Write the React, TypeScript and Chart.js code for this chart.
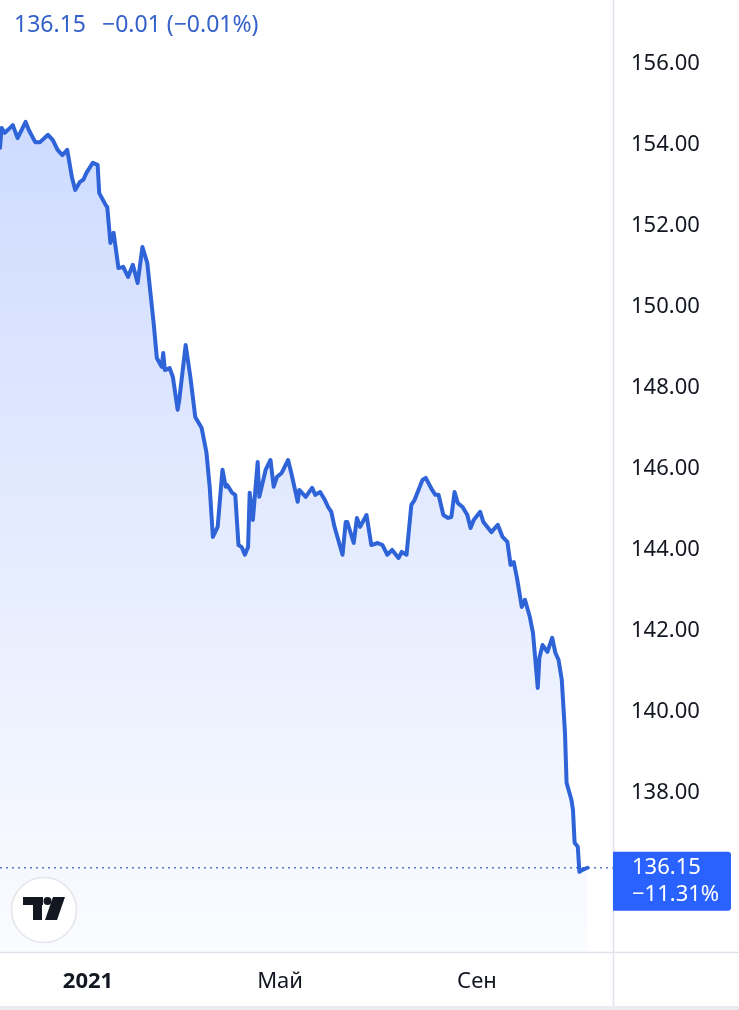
import React, { useEffect, useRef } from "react";
import { Chart, registerables } from "chart.js";

Chart.register(...registerables);

// Days relative to 1 Jan 2021
const DAYS = [
  -55, -54, -52, -47, -44, -39, -37, -33, -30, -25, -22, -19, -16, -13, -10, -8, -5, -3, -1, 3,
  6, 7, 11, 12, 14, 16, 19, 22, 25, 28, 31, 34, 37, 41, 43, 46, 47, 48, 51, 53,
  56, 57, 61, 64, 67, 71, 74, 76, 78, 81, 84, 86, 87, 90, 92, 94, 96, 98, 100, 101,
  103, 106, 107, 111, 114, 116, 118, 121, 125, 127, 131, 132, 136, 140, 142, 145, 148, 150, 152, 154,
  159, 161, 162, 166, 168, 170, 174, 177, 181, 184, 187, 190, 194, 196, 199, 202, 204, 209, 211, 215,
  217, 219, 222, 225, 227, 229, 231, 234, 237, 239, 241, 245, 247, 252, 256, 259, 262, 264, 266, 268,
  271, 273, 276, 278, 281, 282, 284, 287, 290, 292, 294, 296, 298, 299, 302, 303, 304, 306, 307, 309,
  312,
];

const PRICES = [
  153.93, 154.42, 154.30, 154.49, 154.17, 154.57, 154.37, 154.07, 154.07, 154.25, 154.12, 153.88, 153.75, 153.88, 153.19, 152.89, 153.09, 153.14, 153.31, 153.56,
  153.51, 152.81, 152.52, 152.47, 151.58, 151.83, 150.96, 150.99, 150.74, 151.04, 150.59, 151.48, 151.09, 149.60, 148.74, 148.52, 148.86, 148.44, 148.49, 148.27,
  147.46, 147.70, 149.06, 148.25, 147.28, 147.01, 146.40, 145.56, 144.32, 144.57, 145.98, 145.56, 145.60, 145.41, 145.36, 144.12, 144.07, 143.88, 144.07, 145.41,
  144.74, 146.17, 145.31, 145.98, 146.22, 145.56, 145.80, 145.90, 146.22, 145.90, 145.19, 145.48, 145.31, 145.53, 145.36, 145.43, 145.23, 145.06, 144.94, 144.57,
  143.88, 144.69, 144.69, 144.17, 144.79, 144.57, 144.86, 144.12, 144.17, 144.12, 143.88, 144.00, 143.80, 143.95, 143.88, 145.11, 145.23, 145.73, 145.78, 145.48,
  145.36, 145.36, 144.86, 144.79, 144.81, 145.43, 145.16, 145.06, 144.86, 144.54, 144.74, 144.94, 144.69, 144.44, 144.62, 144.32, 144.20, 143.63, 143.70, 143.31,
  142.59, 142.77, 142.35, 141.95, 140.59, 141.33, 141.65, 141.48, 141.83, 141.46, 141.28, 140.79, 139.48, 138.25, 137.83, 137.58, 136.77, 136.67, 136.05, 136.10,
  136.15,
];

const TIME_TICK_DAYS = [0, 120, 243];
const TIME_TICK_LABELS = ["2021", "Май", "Сен"];
const PRICE_TICKS = [138, 140, 142, 144, 146, 148, 150, 152, 154, 156];

const LAST_PRICE = 136.15;
const LAST_CHANGE = "−0.01 (−0.01%)";
const PERIOD_CHANGE = "−11.31%";

const X_MIN = -55;
const X_MAX = 328;
const Y_MIN = 134.07;
const Y_MAX = 157.58;

const FONT = '"Noto Sans", "Open Sans", sans-serif';
const LINE_COLOR = "#2f64d9";
const BOX_COLOR = "#2962ff";
const TEXT_COLOR = "#131722";
const BORDER_COLOR = "#e0e3eb";

const overlayPlugin = {
  id: "tvOverlay",
  beforeDatasetsDraw(chart: any) {
    const { ctx, chartArea } = chart;
    const yScale = chart.scales.y;
    const yLast = yScale.getPixelForValue(LAST_PRICE);
    ctx.save();
    ctx.strokeStyle = "#5a78c8";
    ctx.lineWidth = 1.5;
    ctx.setLineDash([2, 4]);
    ctx.beginPath();
    ctx.moveTo(chartArea.left, yLast);
    ctx.lineTo(chartArea.right, yLast);
    ctx.stroke();
    ctx.restore();
  },
  afterDraw(chart: any) {
    const { ctx, chartArea, width, height } = chart;
    const yScale = chart.scales.y;
    ctx.save();
    // borders
    ctx.strokeStyle = BORDER_COLOR;
    ctx.lineWidth = 1.5;
    ctx.beginPath();
    ctx.moveTo(0, chartArea.bottom + 0.5);
    ctx.lineTo(width, chartArea.bottom + 0.5);
    ctx.moveTo(chartArea.right + 0.5, 0);
    ctx.lineTo(chartArea.right + 0.5, height);
    ctx.stroke();
    ctx.fillStyle = "#e9ebf1";
    ctx.fillRect(0, height - 4, width, 4);

    // legend text
    ctx.fillStyle = "#3461c9";
    ctx.font = `23px ${FONT}`;
    ctx.textBaseline = "middle";
    ctx.textAlign = "left";
    ctx.fillText(LAST_PRICE.toFixed(2), 14, 25);
    ctx.fillText(LAST_CHANGE, 102, 25);

    // price label box
    const yLast = yScale.getPixelForValue(LAST_PRICE);
    const bx = chartArea.right;
    const by = yLast - 16;
    const bw = 118;
    const bh = 59;
    ctx.fillStyle = BOX_COLOR;
    ctx.beginPath();
    (ctx as any).roundRect(bx, by, bw, bh, [0, 3, 3, 0]);
    ctx.fill();
    ctx.fillStyle = "#ffffff";
    ctx.font = `22px ${FONT}`;
    ctx.fillText(LAST_PRICE.toFixed(2), bx + 19, yLast);
    ctx.fillText(PERIOD_CHANGE, bx + 19, yLast + 27);

    // logo
    const cx = 44;
    const cy = 910;
    ctx.beginPath();
    ctx.arc(cx, cy, 32.5, 0, Math.PI * 2);
    ctx.fillStyle = "#ffffff";
    ctx.fill();
    ctx.strokeStyle = "#e3e5ea";
    ctx.lineWidth = 1.5;
    ctx.stroke();
    ctx.fillStyle = TEXT_COLOR;
    ctx.fillRect(cx - 21, cy - 13, 20, 8);
    ctx.fillRect(cx - 11, cy - 13, 9, 23);
    ctx.beginPath();
    ctx.arc(cx + 3.5, cy - 9, 4, 0, Math.PI * 2);
    ctx.fill();
    ctx.beginPath();
    ctx.moveTo(cx + 9, cy - 13);
    ctx.lineTo(cx + 21, cy - 13);
    ctx.lineTo(cx + 13, cy + 10);
    ctx.lineTo(cx + 1, cy + 10);
    ctx.closePath();
    ctx.fill();
    ctx.restore();
  },
};

export default function App() {
  const canvasRef = useRef<HTMLCanvasElement | null>(null);

  useEffect(() => {
    document.body.style.margin = "0";
    const canvas = canvasRef.current;
    if (!canvas) return;
    const points = DAYS.map((d, i) => ({ x: d, y: PRICES[i] }));
    const chart = new Chart(canvas, {
      type: "line",
      data: {
        datasets: [
          {
            data: points,
            borderColor: LINE_COLOR,
            borderWidth: 4,
            borderJoinStyle: "round",
            borderCapStyle: "round",
            pointRadius: 0,
            tension: 0,
            fill: "start",
            backgroundColor: (c: any) => {
              const { chart: ch } = c;
              const area = ch.chartArea;
              if (!area) return "rgba(41,98,255,0.15)";
              const g = ch.ctx.createLinearGradient(0, area.top, 0, area.bottom);
              g.addColorStop(0, "rgba(41,98,255,0.26)");
              g.addColorStop(1, "rgba(41,98,255,0.02)");
              return g;
            },
          },
        ],
      },
      options: {
        animation: false,
        responsive: true,
        maintainAspectRatio: false,
        layout: { padding: 0 },
        plugins: {
          legend: { display: false },
          tooltip: { enabled: false },
        },
        scales: {
          x: {
            type: "linear",
            min: X_MIN,
            max: X_MAX,
            position: "bottom",
            grid: { display: false, drawTicks: false },
            border: { display: false },
            afterBuildTicks: (axis: any) => {
              axis.ticks = TIME_TICK_DAYS.map((v) => ({ value: v }));
            },
            afterFit: (axis: any) => {
              axis.height = 58;
              axis.paddingLeft = 0;
              axis.paddingRight = 0;
              axis.paddingTop = 0;
              axis.paddingBottom = 0;
            },
            ticks: {
              autoSkip: false,
              maxRotation: 0,
              padding: 17,
              color: TEXT_COLOR,
              font: (c: any) => ({
                family: FONT,
                size: 22,
                weight: c.tick && c.tick.value === 0 ? "bold" : "normal",
              }),
              callback: (v: any) => {
                const i = TIME_TICK_DAYS.indexOf(Number(v));
                return i >= 0 ? TIME_TICK_LABELS[i] : "";
              },
            },
          },
          y: {
            type: "linear",
            position: "right",
            min: Y_MIN,
            max: Y_MAX,
            grid: { display: false, drawTicks: false },
            border: { display: false },
            afterBuildTicks: (axis: any) => {
              axis.ticks = PRICE_TICKS.map((v) => ({ value: v }));
            },
            afterFit: (axis: any) => {
              axis.width = 126;
              axis.paddingTop = 0;
              axis.paddingBottom = 0;
              axis.paddingLeft = 0;
              axis.paddingRight = 0;
            },
            ticks: {
              padding: 18,
              color: TEXT_COLOR,
              font: { family: FONT, size: 22 },
              callback: (v: any) => Number(v).toFixed(2),
            },
          },
        },
      },
      plugins: [overlayPlugin],
    });
    return () => chart.destroy();
  }, []);

  return (
    <div style={{ position: "relative", width: 739, height: 1010, background: "#ffffff" }}>
      <canvas ref={canvasRef} />
    </div>
  );
}
